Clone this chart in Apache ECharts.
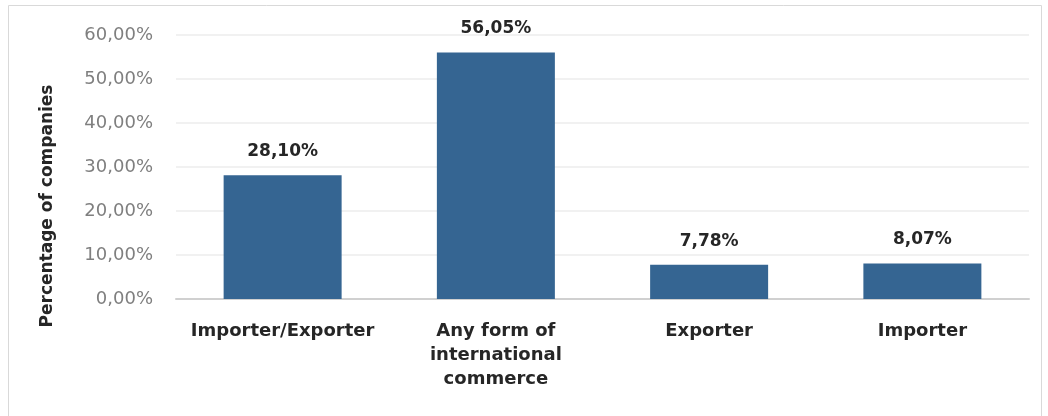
<!DOCTYPE html>
<html>
<head>
<meta charset="utf-8">
<script src="https://cdn.jsdelivr.net/npm/echarts@6/dist/echarts.min.js"></script>
<style>
  html, body { margin: 0; padding: 0; background: #fff; }
  #chart { width: 1048px; height: 416px; }
</style>
</head>
<body>
<div id="chart"></div>
<script>
const categories = ['Importer/Exporter', 'Any form of\ninternational\ncommerce', 'Exporter', 'Importer'];
const shares = [28.10, 56.05, 7.78, 8.07];
const yTicks = [0, 10, 20, 30, 40, 50, 60];
const yTitle = 'Percentage of companies';

const fmt = v => v.toFixed(2).replace('.', ',') + '%';
const font = '"DejaVu Sans", "Open Sans", sans-serif';

let myChart = echarts.init(document.getElementById('chart'));
myChart.setOption({
  animation: false,
  textStyle: { fontFamily: font },
  graphic: [{
    type: 'rect',
    shape: { x: 8.5, y: 5.5, width: 1033, height: 420 },
    style: { fill: 'none', stroke: '#d9d9d9', lineWidth: 1 }
  }, {
    // axis title sits a bit lower than the plot centre in the original
    type: 'text',
    x: 48, y: 206,
    rotation: Math.PI / 2,
    style: {
      text: yTitle, fill: '#262626', font: 'bold 17px ' + font,
      align: 'center', verticalAlign: 'middle'
    }
  }],
  grid: { left: 176, right: 19, top: 35, bottom: 117 },
  xAxis: {
    type: 'category',
    data: categories,
    axisLine: { lineStyle: { color: '#d0d0d0', width: 2 } },
    axisTick: { show: false },
    axisLabel: {
      color: '#262626', fontSize: 18, fontWeight: 'bold',
      lineHeight: 24, margin: 20, interval: 0, fontFamily: font
    }
  },
  yAxis: {
    type: 'value',
    min: yTicks[0],
    max: yTicks[yTicks.length - 1],
    interval: 10,
    axisLine: { show: false },
    axisTick: { show: false },
    splitLine: { lineStyle: { color: '#ececec', width: 1.5 } },
    axisLabel: {
      color: '#7f7f7f', fontSize: 18, margin: 23, fontFamily: font,
      formatter: v => fmt(v)
    }
  },
  series: [{
    type: 'bar',
    data: shares,
    barWidth: 118,
    itemStyle: { color: '#356592' },
    label: {
      show: true, position: 'top', distance: 15,
      color: '#262626', fontSize: 17, fontWeight: 'bold', fontFamily: font,
      formatter: p => fmt(p.value)
    }
  }]
});
</script>
</body>
</html>
